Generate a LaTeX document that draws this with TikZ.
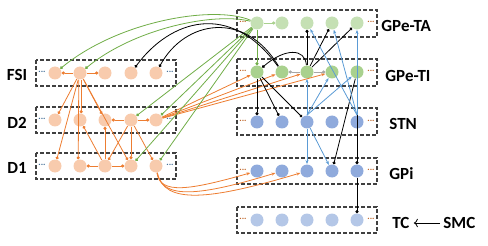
\documentclass[tikz,border=0pt]{standalone}
\usepackage{fontspec}
\setmainfont{Carlito}
\usetikzlibrary{arrows.meta}

\definecolor{strfill}{HTML}{F8CBAD}
\definecolor{strline}{HTML}{ED7D31}
\definecolor{tafill}{HTML}{C5E0B4}
\definecolor{tifill}{HTML}{A9D18E}
\definecolor{taline}{HTML}{70AD47}
\definecolor{stnfill}{HTML}{8FAADC}
\definecolor{tcfill}{HTML}{B4C7E7}
\definecolor{stnline}{HTML}{5B9BD5}

\begin{document}
\begin{tikzpicture}[x=1pt, y=-1pt, line width=0.8pt,
  cell/.style={circle, minimum size=13pt, inner sep=0pt},
  grp/.style={draw=black!75, line width=1.2pt, dash pattern=on 4pt off 2pt},
  lbl/.style={font=\fontsize{17}{20}\selectfont\bfseries, inner sep=0pt},
  more/.style={font=\fontsize{9}{9}\selectfont\bfseries, inner sep=0pt},
  inh/.style={-{Circle[length=3pt]}},
  exc/.style={-{Stealth[length=4pt, width=3pt]}},
  str/.style={draw=strline},
  ta/.style={draw=taline},
  ti/.style={draw=black},
  tig/.style={draw=black!35},
  stn/.style={draw=stnline}]
  \useasboundingbox (0,0) rectangle (488,246);

  % groups (striatum left, GPe/STN/GPi/TC right)
  \draw[grp] (36,60) rectangle (176,86);
  \draw[grp] (36,107) rectangle (176,133);
  \draw[grp] (36,153) rectangle (176,179);
  \draw[grp] (237,10) rectangle (377,37);
  \draw[grp] (237,59) rectangle (377,86);
  \draw[grp] (237,108) rectangle (377,135);
  \draw[grp] (237,158) rectangle (377,184);
  \draw[grp] (237,207) rectangle (377,233);

  \node[more, text=stnline!70!black] (fsiL) at (42,72) {...};
  \node[more, text=stnline!70!black] (fsiR) at (170,72) {...};
  \node[more, text=stnline!70!black] (dtwoL) at (42,119) {...};
  \node[more, text=stnline!70!black] (dtwoR) at (170,119) {...};
  \node[more, text=stnline!70!black] (doneL) at (42,165) {...};
  \node[more, text=stnline!70!black] (doneR) at (170,165) {...};
  \node[more, text=strline!80!black] (taL) at (243,22) {...};
  \node[more, text=strline!80!black] (taR) at (371,22) {...};
  \node[more, text=strline!80!black] (tiL) at (243,71) {...};
  \node[more, text=strline!80!black] (tiR) at (371,71) {...};
  \node[more, text=strline!80!black] (stnL) at (243,121) {...};
  \node[more, text=strline!80!black] (stnR) at (371,121) {...};
  \node[more, text=strline!80!black] (gpiL) at (243,170) {...};
  \node[more, text=strline!80!black] (gpiR) at (371,170) {...};
  \node[more, text=strline!80!black] (tcL) at (243,219) {...};
  \node[more, text=strline!80!black] (tcR) at (371,219) {...};

  % cells
  \node[cell, fill=strfill] (fsi1) at (55,73) {};
  \node[cell, fill=strfill] (fsi2) at (80,73) {};
  \node[cell, fill=strfill] (fsi3) at (105,73) {};
  \node[cell, fill=strfill] (fsi4) at (131,73) {};
  \node[cell, fill=strfill] (fsi5) at (156,73) {};
  \node[cell, fill=strfill] (dtwo1) at (55,120) {};
  \node[cell, fill=strfill] (dtwo2) at (80,120) {};
  \node[cell, fill=strfill] (dtwo3) at (105,120) {};
  \node[cell, fill=strfill] (dtwo4) at (131,120) {};
  \node[cell, fill=strfill] (dtwo5) at (156,120) {};
  \node[cell, fill=strfill] (done1) at (55,166) {};
  \node[cell, fill=strfill] (done2) at (80,166) {};
  \node[cell, fill=strfill] (done3) at (105,166) {};
  \node[cell, fill=strfill] (done4) at (131,166) {};
  \node[cell, fill=strfill] (done5) at (156,166) {};

  \node[cell, fill=tafill] (ta1) at (257,23) {};
  \node[cell, fill=tafill] (ta2) at (282,23) {};
  \node[cell, fill=tafill] (ta3) at (307,23) {};
  \node[cell, fill=tafill] (ta4) at (332,23) {};
  \node[cell, fill=tafill] (ta5) at (357,23) {};
  \node[cell, fill=tifill] (ti1) at (257,72) {};
  \node[cell, fill=tifill] (ti2) at (282,72) {};
  \node[cell, fill=tifill] (ti3) at (307,72) {};
  \node[cell, fill=tifill] (ti4) at (332,72) {};
  \node[cell, fill=tifill] (ti5) at (357,72) {};
  \node[cell, fill=stnfill] (stn1) at (257,122) {};
  \node[cell, fill=stnfill] (stn2) at (282,122) {};
  \node[cell, fill=stnfill] (stn3) at (307,122) {};
  \node[cell, fill=stnfill] (stn4) at (332,122) {};
  \node[cell, fill=stnfill] (stn5) at (357,122) {};
  \node[cell, fill=stnfill] (gpi1) at (257,171) {};
  \node[cell, fill=stnfill] (gpi2) at (282,171) {};
  \node[cell, fill=stnfill] (gpi3) at (307,171) {};
  \node[cell, fill=stnfill] (gpi4) at (332,171) {};
  \node[cell, fill=stnfill] (gpi5) at (357,171) {};
  \node[cell, fill=tcfill] (tc1) at (257,220) {};
  \node[cell, fill=tcfill] (tc2) at (282,220) {};
  \node[cell, fill=tcfill] (tc3) at (307,220) {};
  \node[cell, fill=tcfill] (tc4) at (332,220) {};
  \node[cell, fill=tcfill] (tc5) at (357,220) {};

  % labels
  \node[lbl] (lfsi) at (17,75) {FSI};
  \node[lbl] (ldtwo) at (17,123) {D2};
  \node[lbl] (ldone) at (17,168) {D1};
  \node[lbl, anchor=west] (lta) at (381,26) {GPe-TA};
  \node[lbl, anchor=west] (lti) at (385,76) {GPe-TI};
  \node[lbl, anchor=west] (lstn) at (389,124) {STN};
  \node[lbl, anchor=west] (lgpi) at (389,174) {GPi};
  \node[lbl, anchor=west] (ltc) at (392,223) {TC};
  \node[lbl, anchor=west] (lsmc) at (443,223) {SMC};
  \draw[-{To[length=4pt]}, shorten <=3pt, shorten >=4pt] (lsmc) -- (ltc);

  % striatum
  \draw[str, inh] (fsi2) -- (fsi1);
  \draw[str, inh] (fsi2) -- (fsi3);
  \draw[str, inh] (fsi2) -- (dtwo1);
  \draw[str, inh] (fsi2) -- (done1);
  \draw[str, inh] (fsi2.280) -- (dtwo2.80);
  \draw[str, inh] (fsi2.260) -- (done2.105);
  \draw[str, inh] (fsi2) -- (dtwo3);
  \draw[str, inh] (fsi2) -- (done4);
  \draw[str, inh] (dtwo4) -- (dtwo3);
  \draw[str, inh] (dtwo4) -- (dtwo5);
  \draw[str, inh] (dtwo4) -- (done4);
  \draw[str, inh] (dtwo4) -- (done3);
  \draw[str, inh] (dtwo4) -- (done5);
  \draw[str, inh] (done3) -- (dtwo3);
  \draw[str, inh] (done3) -- (dtwo2);
  \draw[str, inh] (done3) -- (done2);
  \draw[str, inh] (done3) -- (done4);
  \draw[str, exc] (dtwo5) -- (ti1);
  \draw[str, exc] (dtwo5) -- (ti2);
  \draw[str, exc] (dtwo5) -- (ti3);
  \draw[str, exc] (dtwo5) -- (ti4);
  \draw[str, exc] (done5) .. controls (160,195) and (190,190) .. (gpi1);
  \draw[str, exc] (done5) .. controls (162,200) and (200,196) .. (gpi2);
  \draw[str, exc] (done5) .. controls (164,205) and (210,200) .. (gpi3);

  % GPe-TA
  \draw[draw=tifill, inh] (ta1) -- (ta2);
  \draw[ta, inh] (ta1) -- (ti1);
  \draw[ta, inh] (ta1) .. controls (215,5) and (120,20) .. (fsi1);
  \draw[ta, inh] (ta1) .. controls (215,12) and (135,28) .. (fsi2);
  \draw[ta, inh] (ta1) -- (dtwo4);
  \draw[ta, inh] (ta1) -- (dtwo5);
  \draw[ta, inh] (ta1) -- (done4);
  \draw[ta, inh] (ta1) -- (done5);

  % GPe-TI
  \draw[ti, inh] (ti2) .. controls (230,0) and (170,20) .. (fsi4);
  \draw[ti, inh] (ti2) .. controls (245,10) and (185,20) .. (fsi5);
  \draw[ti, inh] (ti3) .. controls (305,48) and (285,48) .. (ti1);
  \draw[tig, inh] (ti3) -- (ti2);
  \draw[tig, inh] (ti3) -- (ti4);
  \draw[ti, inh] (ti3) -- (ta3);
  \draw[ti, inh] (ti3) -- (ta4);
  \draw[ti, inh] (ti3) -- (ta5);
  \draw[ti, inh] (ti1) -- (stn1);
  \draw[ti, inh] (ti1) -- (stn2);
  \draw[ti, inh] (ti1) -- (stn3);
  \draw[ti, inh] (ti5) -- (gpi4);
  \draw[ti, inh] (ti5) -- (gpi5);
  \draw[ti, inh] (gpi5) -- (tc5);

  % STN
  \draw[stn, exc] (stn3.north) -- (ti3);
  \draw[stn, exc] (stn3.north) -- (ti4);
  \draw[stn, exc] (stn3.north) -- (ti5);
  \draw[stn, exc] (stn3) -- (gpi3);
  \draw[stn, exc] (stn3) -- (gpi4);
  \draw[stn, exc] (stn5.north) -- (ta3);
  \draw[stn, exc] (stn5.north) -- (ta4);
  \draw[stn, exc] (stn5.north) -- (ta5);
\end{tikzpicture}
\end{document}
